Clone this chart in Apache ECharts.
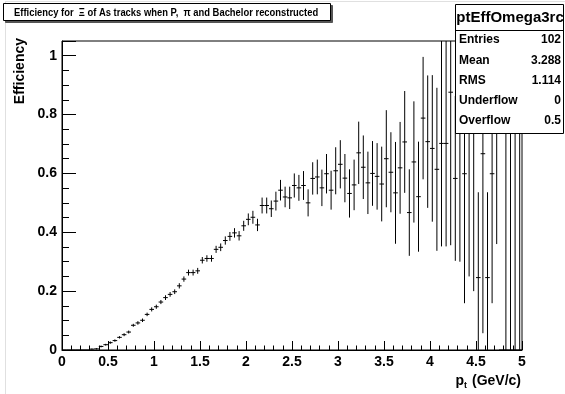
<!DOCTYPE html>
<html><head><meta charset="utf-8">
<script src="https://cdn.jsdelivr.net/npm/echarts@6/dist/echarts.min.js"></script>
<style>html,body{margin:0;padding:0;background:#fff}#c{width:565px;height:394px}</style>
</head><body><div id="c"></div>
<script>
// ---- data ----
const titleText = 'Efficiency for  \u039E of As tracks when P,  \u03C0 and Bachelor reconstructed';
const xTitleMain = 'p';
const xTitleSub = 't';
const xTitleRest = ' (GeV/c)';
const yTitle = 'Efficiency';
const ptCenters = [
0.025,0.075,0.125,0.175,0.225,0.275,0.325,0.375,0.425,0.475,
0.525,0.575,0.625,0.675,0.725,0.775,0.825,0.875,0.925,0.975,
1.025,1.075,1.125,1.175,1.225,1.275,1.325,1.375,1.425,1.475,
1.525,1.575,1.625,1.675,1.725,1.775,1.825,1.875,1.925,1.975,
2.025,2.075,2.125,2.175,2.225,2.275,2.325,2.375,2.425,2.475,
2.525,2.575,2.625,2.675,2.725,2.775,2.825,2.875,2.925,2.975,
3.025,3.075,3.125,3.175,3.225,3.275,3.325,3.375,3.425,3.475,
3.525,3.575,3.625,3.675,3.725,3.775,3.825,3.875,3.925,3.975,
4.025,4.075,4.125,4.175,4.225,4.275,4.325,4.375,4.425,4.475,
4.525,4.575,4.625,4.675,4.725,4.775,4.825,4.875,4.925,4.975];
const efficiency = [
0,0,0,0,0,0,0.003,0.004,0.012,0.018,
0.025,0.032,0.043,0.052,0.061,0.084,0.092,0.101,0.121,0.138,
0.147,0.163,0.178,0.189,0.198,0.218,0.241,0.263,0.263,0.269,
0.305,0.311,0.311,0.342,0.349,0.372,0.386,0.398,0.388,0.422,
0.444,0.451,0.425,0.491,0.491,0.480,0.506,0.543,0.520,0.517,
0.559,0.551,0.559,0.500,0.583,0.588,0.551,0.599,0.543,0.609,
0.631,0.584,0.532,0.561,0.670,0.621,0.568,0.600,0.590,0.564,
0.650,0.604,0.534,0.619,0.707,0.467,0.639,0.521,0.788,0.708,
0.685,0.614,0.702,0.702,0.876,0.583,0.750,0.599,0.800,0.800,
0.246,0.667,0.246,0.599,0.800,0,0,0,0,0];
const efficiencyError = [
0,0,0,0,0,0,0.002,0.002,0.003,0.003,
0.004,0.004,0.004,0.005,0.005,0.005,0.006,0.006,0.006,0.007,
0.007,0.007,0.008,0.008,0.008,0.009,0.009,0.010,0.010,0.010,
0.011,0.011,0.011,0.012,0.013,0.014,0.015,0.016,0.016,0.017,
0.020,0.022,0.021,0.027,0.027,0.028,0.032,0.035,0.035,0.038,
0.041,0.044,0.049,0.046,0.055,0.059,0.062,0.067,0.066,0.080,
0.082,0.082,0.082,0.086,0.106,0.108,0.106,0.110,0.113,0.127,
0.165,0.136,0.173,0.156,0.173,0.147,0.206,0.187,0.208,0.225,
0.249,0.277,0.350,0.350,0.520,0.280,0.450,0.440,0.550,0.600,
0.290,0.610,0.290,0.440,0.440,0,1.2,1.2,1.2,1.2];
const statsName = 'ptEffOmega3rc';
const statsLabels = ['Entries','Mean','RMS','Underflow','Overflow'];
const statsValues = ['102','3.288','1.114','0','0.5'];
const xMin = 0, xMax = 5, xInterval = 0.5;
const yMin = 0, yMax = 1.05, yInterval = 0.2, yMinorInterval = 0.05;

// ---- chart ----
const FONT = 'Liberation Sans, Arial, Helvetica, sans-serif';
const halfBin = (ptCenters[1] - ptCenters[0]) / 2;
const chart = echarts.init(document.getElementById('c'), null, {renderer: 'canvas'});

const ZS = 120;
const sx = 455, sy = 4, sw = 108, rowH = 20.2;
const statsEls = [];
statsEls.push({type:'rect', z: ZS, shape:{x:sx+0.5, y:sy+0.5, width:sw, height:129}, style:{fill:'#fff', stroke:'#000', lineWidth:1}});
statsEls.push({type:'line', z: ZS+1, shape:{x1:sx+0.5, y1:sy+26.5, x2:sx+sw+0.5, y2:sy+26.5}, style:{stroke:'#000', lineWidth:1}});
statsEls.push({type:'text', z: ZS+1, x: sx+sw/2+1, y: sy+14, style:{text: statsName, font:'bold 15px '+FONT, fill:'#000', align:'center', verticalAlign:'middle'}});
statsLabels.forEach((l, i) => {
  const yy = sy + 36 + i*rowH;
  statsEls.push({type:'text', z: ZS+1, x: sx+4, y: yy, style:{text:l, font:'bold 12px '+FONT, fill:'#000', align:'left', verticalAlign:'middle'}});
  statsEls.push({type:'text', z: ZS+1, x: sx+sw-2, y: yy, style:{text:statsValues[i], font:'bold 12px '+FONT, fill:'#000', align:'right', verticalAlign:'middle'}});
});

const option = {
  animation: false,
  backgroundColor: '#fff',
  grid: {left: 62, top: 41, width: 460, height: 309, show: true, borderColor: '#000', borderWidth: 1, backgroundColor: 'transparent'},
  xAxis: {
    type: 'value', min: xMin, max: xMax, interval: xInterval,
    axisLine: {show: true, lineStyle: {color: '#000', width: 1}},
    axisTick: {show: true, inside: true, length: 9, lineStyle: {color: '#000', width: 1}},
    minorTick: {show: true, splitNumber: 5, length: 4.5, lineStyle: {color: '#000', width: 1}},
    axisLabel: {color: '#000', fontFamily: FONT, fontWeight: 'bold', fontSize: 14, margin: 5},
    splitLine: {show: false}, minorSplitLine: {show: false}
  },
  yAxis: [{
    type: 'value', min: yMin, max: yMax, interval: yInterval,
    axisLine: {show: true, lineStyle: {color: '#000', width: 1}},
    axisTick: {show: true, inside: true, length: 14, lineStyle: {color: '#000', width: 1}},
    axisLabel: {color: '#000', fontFamily: FONT, fontWeight: 'bold', fontSize: 14, margin: 5,
      formatter: v => (Math.abs(v / yInterval - Math.round(v / yInterval)) < 1e-6 ? String(+v.toFixed(2)) : '')},
    splitLine: {show: false}
  }, {
    type: 'value', min: yMin, max: yMax, interval: yMinorInterval, position: 'left',
    axisLine: {show: false},
    axisTick: {show: true, inside: true, length: 7, lineStyle: {color: '#000', width: 1}},
    axisLabel: {show: false}, splitLine: {show: false}
  }],
  series: [{
    type: 'custom', clip: true, yAxisIndex: 0, z: 2,
    data: ptCenters.map((x, i) => [x, efficiency[i], efficiencyError[i]]),
    encode: {x: 0, y: 1},
    renderItem: (params, api) => {
      const x = api.value(0), y = api.value(1), e = api.value(2);
      const lo = Math.max(y - e, yMin), hi = Math.min(y + e, yMax);
      const a = api.coord([x - halfBin, y]), b = api.coord([x + halfBin, y]);
      const t = api.coord([x, hi]), u = api.coord([x, lo]);
      const children = [{type: 'line', shape: {x1: a[0], y1: a[1], x2: b[0], y2: b[1]}, style: {stroke: '#000', lineWidth: 1}}];
      if (e > 0) children.push({type: 'line', shape: {x1: t[0], y1: t[1], x2: u[0], y2: u[1]}, style: {stroke: '#000', lineWidth: 1}});
      return {type: 'group', children};
    }
  }],
  graphic: [
    {type: 'line', z: 100, shape: {x1: 5.5, y1: 2, x2: 5.5, y2: 394}, style: {stroke: '#e0e0e0', lineWidth: 1}},
    {type: 'line', z: 100, shape: {x1: 5, y1: 1.5, x2: 565, y2: 1.5}, style: {stroke: '#e0e0e0', lineWidth: 1}},
    // title box
    {type: 'rect', z: 100, shape: {x: 5.5, y: 5.5, width: 327, height: 17}, style: {fill: '#555', stroke: '#555'}},
    {type: 'rect', z: 101, shape: {x: 3.5, y: 3.5, width: 327, height: 17}, style: {fill: '#fff', stroke: '#000', lineWidth: 1}},
    {type: 'text', z: 102, x: 14, y: 12.5, scaleX: 0.855, style: {text: titleText, font: 'bold 11px ' + FONT, fill: '#000', align: 'left', verticalAlign: 'middle'}},
    ...statsEls,
    // axis titles
    {type: 'text', z: 100, x: 20, y: 38, rotation: Math.PI / 2,
      style: {text: yTitle, font: 'bold 14px ' + FONT, fill: '#000', align: 'right', verticalAlign: 'middle'}},
    {type: 'text', z: 100, x: 521, y: 381,
      style: {text: '{a|' + xTitleMain + '}{b|' + xTitleSub + '}{a|' + xTitleRest + '}', align: 'right', verticalAlign: 'middle',
        rich: {a: {font: 'bold 14px ' + FONT, fill: '#000', lineHeight: 18, verticalAlign: 'middle'},
               b: {font: 'bold 9px ' + FONT, fill: '#000', lineHeight: 18, padding: [10, 1, 0, 0], verticalAlign: 'middle'}}}}
  ]
};
chart.setOption(option);
</script></body></html>
